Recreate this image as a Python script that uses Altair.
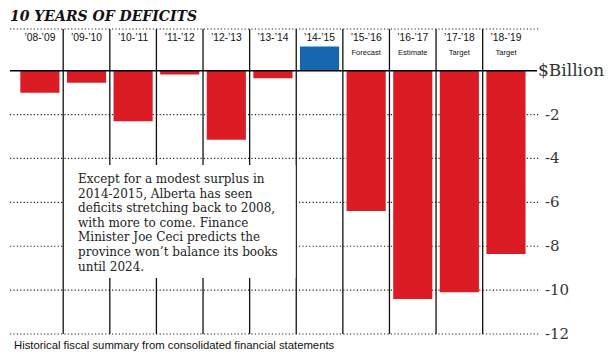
import altair as alt
import pandas as pd

# ---- data ----
years = ["’08-’09", "’09-’10", "’10-’11", "’11-’12", "’12-’13", "’13-’14",
         "’14-’15", "’15-’16", "’16-’17", "’17-’18", "’18-’19"]
balance = [-1.0, -0.55, -2.3, -0.17, -3.15, -0.35, 1.1, -6.4, -10.4, -10.1, -8.35]
status = ["", "", "", "", "", "", "", "Forecast", "Estimate", "Target", "Target"]
tick_values = [-2, -4, -6, -8, -10, -12]
top_value = 1.9
unit_label = "$Billion"
title_text = "10 YEARS OF DEFICITS"
source_text = "Historical fiscal summary from consolidated financial statements"
note_lines = [
    "Except for a modest surplus in",
    "2014-2015, Alberta has seen",
    "deficits stretching back to 2008,",
    "with more to come. Finance",
    "Minister Joe Ceci predicts the",
    "province won’t balance its books",
    "until 2024.",
]

RED = "#dc1c24"
BLUE = "#1767b0"
SERIF = "DejaVu Serif"
SANS = "Liberation Sans, sans-serif"

W, H = 530, 305

n = len(years)
df = pd.DataFrame({
    "year": years,
    "balance": balance,
    "status": status,
    "i": list(range(n)),
})
df["xs"] = df["i"] + 0.08
df["xe"] = df["i"] + 0.92
df["xc"] = df["i"] + 0.5
df["zero"] = 0.0
df["sign"] = ["pos" if v > 0 else "neg" for v in balance]

xsc = alt.Scale(domain=[-0.1416, 11.23], nice=False, zero=False)
ysc = alt.Scale(domain=[-12, top_value], nice=False, zero=False)

grid_df = pd.DataFrame({"v": [top_value] + tick_values})
tick_df = pd.DataFrame({"v": tick_values, "lab": [str(t) for t in tick_values]})
sep_df = pd.DataFrame({"b": list(range(1, n)), "top": top_value, "bot": -12})
zero_df = pd.DataFrame({"v": [0.0], "lab": [unit_label]})

grid = alt.Chart(grid_df).mark_rule(color="#222", strokeWidth=1.2, strokeDash=[1.2, 2.2]).encode(
    y=alt.Y("v:Q", scale=ysc, axis=None), x=alt.value(0), x2=alt.value(W)
)

bars = alt.Chart(df).mark_rect().encode(
    x=alt.X("xs:Q", scale=xsc, axis=None), x2="xe:Q",
    y=alt.Y("balance:Q", scale=ysc, axis=None), y2="zero:Q",
    color=alt.Color("sign:N", scale=alt.Scale(domain=["neg", "pos"], range=[RED, BLUE]), legend=None),
)

seps = alt.Chart(sep_df).mark_rule(color="#111", strokeWidth=1.3).encode(
    x=alt.X("b:Q", scale=xsc, axis=None),
    y=alt.Y("top:Q", scale=ysc, axis=None), y2="bot:Q",
)

box = alt.Chart(zero_df).mark_rect(color="white").encode(
    x=alt.value(54), x2=alt.value(285.5), y=alt.value(136), y2=alt.value(249)
)

zero_line = alt.Chart(zero_df).mark_rule(color="#000", strokeWidth=1.5).encode(
    y=alt.Y("v:Q", scale=ysc, axis=None), x=alt.value(0), x2=alt.value(527)
)

unit = alt.Chart(zero_df).mark_text(align="left", baseline="middle", font=SERIF, fontSize=17, color="#333").encode(
    y=alt.Y("v:Q", scale=ysc, axis=None), x=alt.value(528), text="lab:N"
)

ticks = alt.Chart(tick_df).mark_text(align="left", baseline="middle", font=SERIF, fontSize=15, color="#333").encode(
    y=alt.Y("v:Q", scale=ysc, axis=None), x=alt.value(535), text="lab:N"
)

year_lab = alt.Chart(df).mark_text(baseline="middle", font=SANS, fontSize=10.3, color="#111").encode(
    x=alt.X("xc:Q", scale=xsc, axis=None), y=alt.value(8.5), text="year:N"
)

status_lab = alt.Chart(df).mark_text(baseline="middle", font=SANS, fontSize=7.6, color="#111").encode(
    x=alt.X("xc:Q", scale=xsc, axis=None), y=alt.value(23.5), text="status:N"
)

note = alt.Chart(zero_df).mark_text(align="left", baseline="alphabetic", font=SERIF, fontSize=12,
                                    lineHeight=14.6, color="#222").encode(
    x=alt.value(68), y=alt.value(154), text=alt.value(note_lines)
)

title = alt.Chart(zero_df).mark_text(align="left", baseline="alphabetic", font=SERIF, fontSize=14,
                                     fontStyle="italic", fontWeight="bold", color="#111").encode(
    x=alt.value(0), y=alt.value(-8.5), text=alt.value(title_text)
)

source = alt.Chart(zero_df).mark_text(align="left", baseline="alphabetic", font=SANS, fontSize=11.3,
                                      color="#111").encode(
    x=alt.value(4), y=alt.value(320), text=alt.value(source_text)
)

chart = alt.layer(
    grid, bars, seps, box, zero_line, unit, ticks, year_lab, status_lab, note, title, source
).properties(
    width=W, height=H,
    autosize=alt.AutoSizeParams(type="none"),
    padding={"left": 2, "top": 21, "right": 65, "bottom": 18},
).configure_view(stroke=None)

chart.save("out.html", embed_options={"renderer": "svg", "actions": False})
